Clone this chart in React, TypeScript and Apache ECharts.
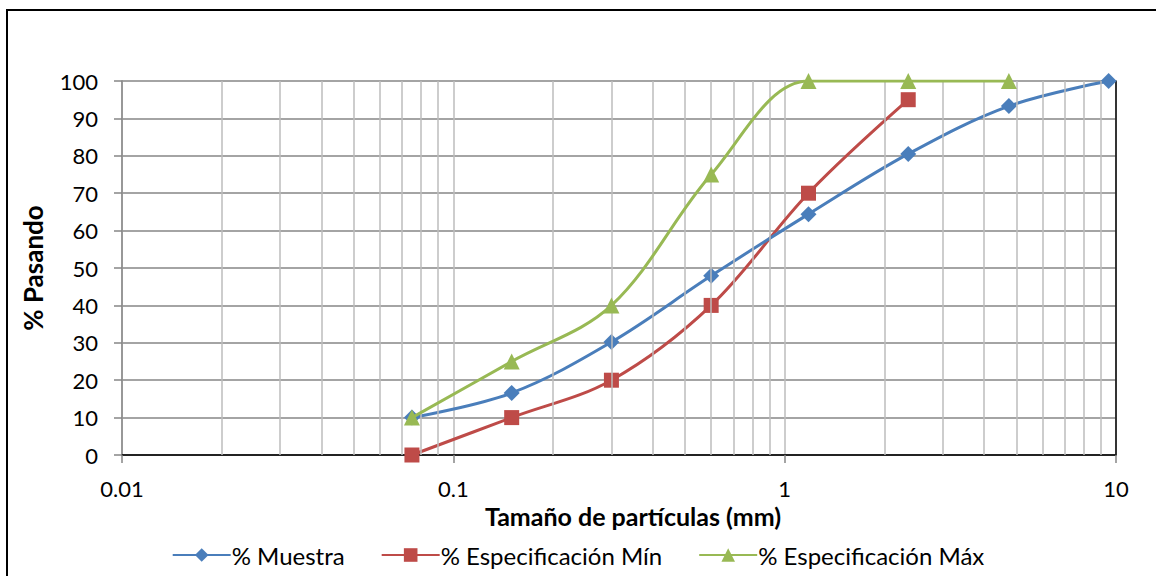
import React, { useEffect, useRef } from "react";
import * as echarts from "echarts";

// Sieve sizes (mm)
const SIZES = [0.075, 0.15, 0.3, 0.6, 1.18, 2.36, 4.75, 9.5];
const MUESTRA = [10, 16.6, 30.2, 47.9, 64.4, 80.5, 93.3, 100];
const SPEC_MIN = [0, 10, 20, 40, 70, 95];
const SPEC_MAX = [10, 25, 40, 75, 100, 100, 100];
const SERIES_NAMES = ["% Muestra", "% Especificación Mín", "% Especificación Máx"];
const MINOR_TICKS = [
  0.02, 0.03, 0.04, 0.05, 0.06, 0.07, 0.08, 0.09,
  0.2, 0.3, 0.4, 0.5, 0.6, 0.7, 0.8, 0.9,
  2, 3, 4, 5, 6, 7, 8, 9,
];
const X_MIN = 0.01;
const X_MAX = 10;
const Y_MIN = 0;
const Y_MAX = 100;
const Y_STEP = 10;

const FONT = "Lato, 'Open Sans', sans-serif";

function pairs(vals: number[]) {
  return vals.map((v, i) => [SIZES[i], v]);
}

export default function App() {
  const ref = useRef<HTMLDivElement>(null);
  useEffect(() => {
    if (!ref.current) return;
    const chart = echarts.init(ref.current, undefined, { renderer: "svg" });
    const axisGrey = "#868686";
    const option: any = {
      animation: false,
      backgroundColor: "#ffffff",
      textStyle: { fontFamily: FONT },
      graphic: [
        {
          type: "rect",
          shape: { x: 7, y: 10, width: 1300, height: 800 },
          style: { fill: "none", stroke: "#000", lineWidth: 2 },
          silent: true,
          z: 0,
        },
      ],
      grid: { left: 122, top: 81, right: 40, bottom: 121 },
      legend: {
        bottom: 4,
        left: "center",
        itemWidth: 58,
        itemHeight: 17,
        itemGap: 36,
        data: SERIES_NAMES,
        textStyle: { fontFamily: FONT, fontSize: 24, color: "#000", padding: [0, 0, 0, -4] },
      },
      xAxis: [
        {
          type: "log",
          logBase: 10,
          min: X_MIN,
          max: X_MAX,
          name: "Tamaño de partículas (mm)",
          nameLocation: "middle",
          nameGap: 33,
          nameTextStyle: {
            fontFamily: FONT,
            fontSize: 25,
            fontWeight: "bold",
            color: "#000",
            padding: [0, 0, 0, 28],
          },
          axisLine: { show: true, lineStyle: { color: axisGrey, width: 1.5 } },
          axisTick: { show: true, inside: false, length: 8, lineStyle: { color: axisGrey, width: 1.5 } },
          axisLabel: {
            margin: 22,
            fontFamily: FONT,
            fontSize: 22,
            color: "#000",
            formatter: (v: number) => String(v),
          },
          splitLine: { show: true, lineStyle: { color: "#bcbcbc", width: 1.5 } },
        },
        {
          type: "log",
          logBase: 10,
          min: X_MIN,
          max: X_MAX,
          position: "top",
          axisLine: { show: true, lineStyle: { color: "#000", width: 1.5 } },
          axisTick: { show: false },
          axisLabel: { show: false },
          splitLine: { show: false },
        },
      ],
      yAxis: [
        {
          type: "value",
          min: Y_MIN,
          max: Y_MAX,
          interval: Y_STEP,
          name: "% Pasando",
          nameLocation: "middle",
          nameGap: 76,
          nameRotate: 90,
          nameTextStyle: { fontFamily: FONT, fontSize: 26, fontWeight: "bold", color: "#000" },
          axisLine: { show: true, lineStyle: { color: axisGrey, width: 1.5 } },
          axisTick: { show: true, inside: false, length: 8, lineStyle: { color: axisGrey, width: 1.5 } },
          axisLabel: { margin: 24, fontFamily: FONT, fontSize: 22, color: "#000" },
          splitLine: { show: true, lineStyle: { color: axisGrey, width: 1.5 } },
        },
        {
          type: "value",
          min: Y_MIN,
          max: Y_MAX,
          interval: Y_STEP,
          position: "right",
          axisLine: { show: true, lineStyle: { color: "#000", width: 1.5 } },
          axisTick: { show: false },
          axisLabel: { show: false },
          splitLine: { show: false },
        },
      ],
      series: [
        {
          name: "minor-grid",
          type: "line",
          data: [],
          silent: true,
          z: 1,
          markLine: {
            silent: true,
            symbol: "none",
            label: { show: false },
            lineStyle: { color: "#bcbcbc", width: 1.5, type: "solid" },
            data: MINOR_TICKS.map((v) => ({ xAxis: v })),
          },
        },
        {
          name: SERIES_NAMES[0],
          type: "line",
          data: pairs(MUESTRA),
          smooth: 0.35,
          symbol: "diamond",
          symbolSize: 16,
          z: 4,
          lineStyle: { color: "#4A7EBB", width: 3 },
          itemStyle: { color: "#4A7EBB" },
        },
        {
          name: SERIES_NAMES[1],
          type: "line",
          data: pairs(SPEC_MIN),
          smooth: 0.35,
          symbol: "rect",
          symbolSize: 15,
          z: 3,
          lineStyle: { color: "#BE4B48", width: 3 },
          itemStyle: { color: "#BE4B48" },
        },
        {
          name: SERIES_NAMES[2],
          type: "line",
          data: pairs(SPEC_MAX),
          smooth: 0.35,
          symbol: "triangle",
          symbolSize: 16,
          z: 5,
          lineStyle: { color: "#98B954", width: 3 },
          itemStyle: { color: "#98B954" },
        },
      ],
    };
    chart.setOption(option);
    return () => chart.dispose();
  }, []);
  return (
    <div
      ref={ref}
      style={{ position: "fixed", left: 0, top: 0, width: 1156, height: 576, background: "#fff" }}
    />
  );
}
